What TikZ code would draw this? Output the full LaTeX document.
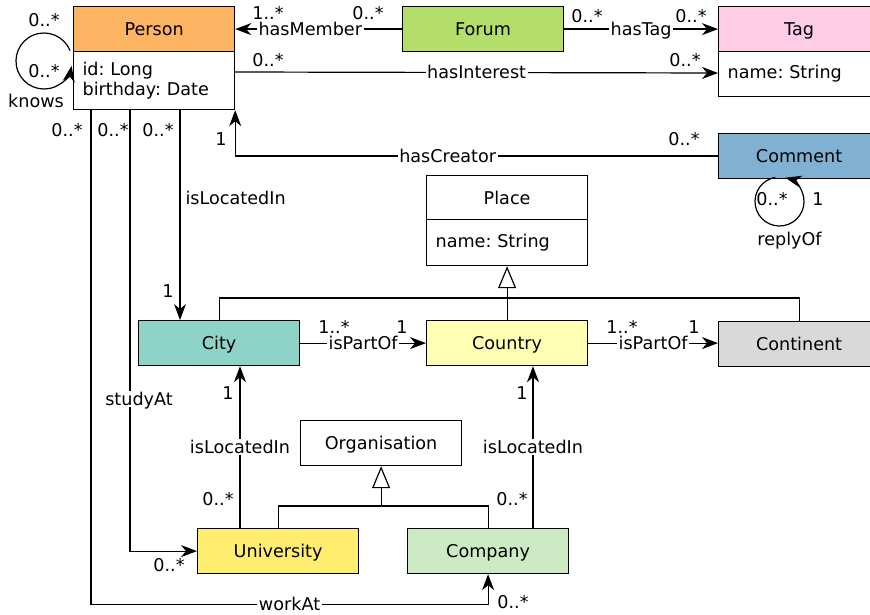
\documentclass[tikz,border=0pt]{standalone}
\usepackage{fontspec}
\setmainfont{DejaVu Sans}
\usetikzlibrary{arrows.meta,calc}
\definecolor{cperson}{HTML}{FDB462}
\definecolor{cforum}{HTML}{B3DE69}
\definecolor{ctag}{HTML}{FCCDE5}
\definecolor{ccomment}{HTML}{80B1D3}
\definecolor{ccity}{HTML}{8DD3C7}
\definecolor{ccountry}{HTML}{FFFFB3}
\definecolor{ccontinent}{HTML}{D9D9D9}
\definecolor{cuni}{HTML}{FFED6F}
\definecolor{ccompany}{HTML}{CCEBC5}
\frenchspacing
\begin{document}
\begin{tikzpicture}[x=1pt,y=-1pt,
  every node/.style={font=\fontsize{17.6}{20}\selectfont},
  line width=1.2pt,
  hdr/.style={draw, line width=1.2pt, anchor=north west, minimum width=161pt, minimum height=45pt, inner sep=0pt, text height=16pt, text depth=3pt},
  attr/.style={draw, line width=1.2pt, anchor=north west, text width=143pt, inner xsep=9pt, inner ysep=0pt, align=left},
  lbl/.style={fill=white, inner sep=1.5pt, text height=13pt, text depth=0pt},
  card/.style={inner sep=0pt},
  arr/.style={-{Stealth[length=16pt,width=12pt,inset=5pt]}},
  gen/.style={-{Triangle[open,length=22pt,width=18pt]}}
]
\clip (0,0) rectangle (870,615);
\useasboundingbox (0,0) rectangle (870,615);

% classes
\node[hdr, fill=cperson] (person) at (73,6) {Person};
\node[attr, minimum height=58pt] (personA) at (73,51) {\rule{0pt}{2pt}id: Long\\birthday: Date};
\node[hdr, fill=cforum] (forum) at (402,6) {Forum};
\node[hdr, fill=ctag] (tag) at (718,6) {Tag};
\node[attr, minimum height=45pt] (tagA) at (718,51) {name: String};
\node[hdr, fill=ccomment] (comment) at (718,133) {Comment};
\node[hdr, minimum height=44pt] (place) at (426,175) {Place};
\node[attr, minimum height=46pt] (placeA) at (426,219) {name: String};
\node[hdr, fill=ccity] (city) at (138,320) {City};
\node[hdr, fill=ccountry] (country) at (426,320) {Country};
\node[hdr, fill=ccontinent] (continent) at (718,321) {Continent};
\node[hdr] (organisation) at (300,420) {Organisation};
\node[hdr, fill=cuni] (university) at (197,528) {University};
\node[hdr, fill=ccompany] (company) at (407,528) {Company};

% hasMember
\draw[arr] (forum.west) -- (person.east) node[lbl, pos=0.55] {hasMember};
\node[card] at (268,13) {1..*};
\node[card] at (368,13) {0..*};

% hasTag
\draw[arr] (forum.east) -- (tag.west) node[lbl, pos=0.5] {hasTag};
\node[card] at (587,16) {0..*};
\node[card] at (691,16) {0..*};

% hasInterest
\coordinate (hiS) at ($(personA.north east)+(0,21)$);
\coordinate (hiE) at ($(tagA.north west)+(0,22)$);
\draw[arr] (hiS) -- (hiE) node[lbl, pos=0.5] {hasInterest};
\node[card] at (268,60) {0..*};
\node[card] at (685,60) {0..*};

% hasCreator
\draw[arr] (comment.west) -| (personA.south east) node[lbl, pos=0.28] {hasCreator};
\node[card] at (684,139) {0..*};
\node[card] at (221,139) {1};

% replyOf
\coordinate (rc) at (779.5,201.5);
\draw[arr] ($(rc)+(-100:24.5)$) arc[start angle=-100, end angle=-436, radius=24.5];
\node[card] at (772,199) {0..*};
\node[card] at (818,199) {1};
\node[card] at (789.5,241) {replyOf};

% knows
\coordinate (kc) at (44,61);
\draw[arr] ($(kc)+(-22:28)$) arc[start angle=-22, end angle=-350, radius=28];
\node[card] at (44,20) {0..*};
\node[card] at (44,71) {0..*};
\node[card] at (36,101) {knows};

% Person isLocatedIn City
\coordinate (pL) at ($(personA.south west)+(107,0)$);
\draw[arr] (pL) -- (pL |- city.north) node[pos=0.42, right=4pt, inner sep=1pt] {isLocatedIn};
\node[card] at (158,130) {0..*};
\node[card] at (168,291) {1};

% studyAt
\coordinate (pS) at ($(personA.south west)+(57,0)$);
\draw[arr] (pS) |- (university.west) node[lbl, pos=0.327, xshift=9pt] {studyAt};
\node[card] at (113,130) {0..*};
\node[card] at (169,565) {0..*};

% workAt
\coordinate (pW) at ($(personA.south west)+(18,0)$);
\coordinate (wC) at ($(company.south)+(0,30)$);
\draw[arr] (pW) |- (wC) node[lbl, pos=0.75] {workAt} -- (company.south);
\node[card] at (67,130) {0..*};
\node[card] at (513,602) {0..*};

% isPartOf
\draw[arr] (city.east) -- (country.west) node[lbl, midway] {isPartOf};
\node[card] at (334,327) {1..*};
\node[card] at (402,327) {1};
\draw[arr] (country.east) -- (continent.west |- country.east) node[lbl, midway] {isPartOf};
\node[card] at (622,327) {1..*};
\node[card] at (694,327) {1};

% generalisation Place
\draw (city.north) -- ++(0,-22) -| (continent.north);
\draw[gen] (country.north) -- (placeA.south);

% generalisation Organisation
\draw (university.north) -- ++(0,-22) -| (company.north);
\draw[gen] ($(organisation.south)+(0,41)$) -- (organisation.south);

% University isLocatedIn City
\coordinate (uL) at ($(university.north west)+(43,0)$);
\draw[arr] (uL) -- (uL |- city.south) node[lbl, midway] {isLocatedIn};
\node[card] at (228,393) {1};
\node[card] at (218,499) {0..*};

% Company isLocatedIn Country
\coordinate (cL) at ($(company.north west)+(126,0)$);
\draw[arr] (cL) -- (cL |- country.south) node[lbl, midway] {isLocatedIn};
\node[card] at (522,393) {1};
\node[card] at (512,499) {0..*};
\end{tikzpicture}
\end{document}
